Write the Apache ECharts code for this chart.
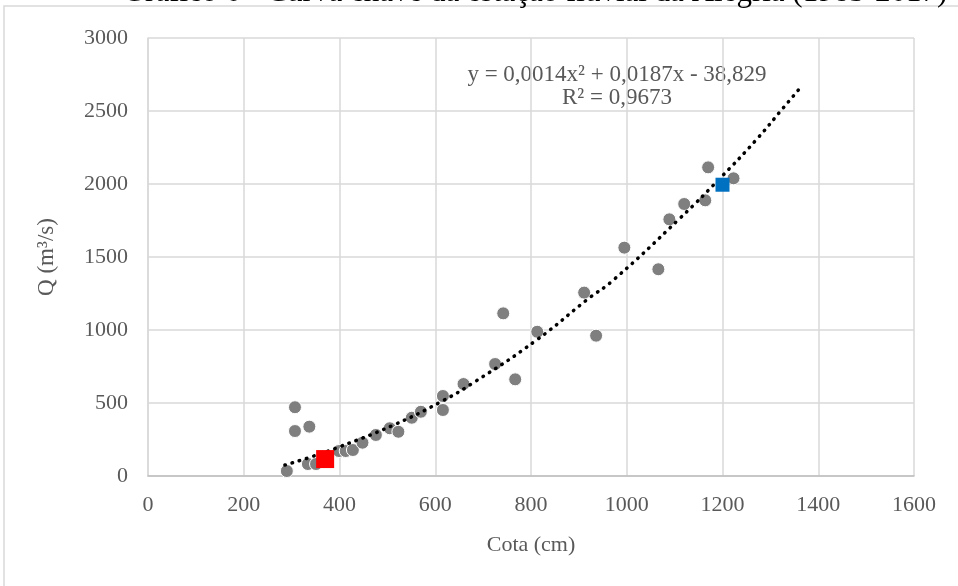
<!DOCTYPE html>
<html>
<head>
<meta charset="utf-8">
<script src="https://cdn.jsdelivr.net/npm/echarts@6/dist/echarts.min.js"></script>
<style>
  html, body { margin: 0; padding: 0; background: #fff; }
  #chart { width: 958px; height: 586px; }
</style>
</head>
<body>
<div id="chart"></div>
<script>
// medições (cota em cm, vazão em m3/s)
const cotaObs = [290, 307, 307, 337, 334, 351, 399, 413, 428, 448, 476, 505, 523, 551, 570, 616, 616, 659,
  725, 742, 767, 813, 911, 936, 995, 1066, 1089, 1120, 1164, 1170, 1223];
const vazaoObs = [34, 471, 308, 338, 82, 82, 171, 171, 178, 228, 281, 327, 303, 399, 440, 548, 452, 630,
  767, 1114, 662, 988, 1256, 961, 1564, 1416, 1758, 1863, 1888, 2114, 2039];

// pontos destacados
const pontoVermelho = [370, 116];
const pontoAzul = [1200, 1995];

// linha de tendência
const cotaTend = [286, 340, 400, 510, 610, 683, 812, 916, 972, 1111, 1198, 1270, 1325, 1360];
const vazaoTend = [75, 130, 200, 345, 505, 646, 932, 1205, 1342, 1765, 2050, 2301, 2514, 2650];

const xTicks = [0, 200, 400, 600, 800, 1000, 1200, 1400, 1600];
const yTicks = [0, 500, 1000, 1500, 2000, 2500, 3000];

const fonte = '"Liberation Serif", "DejaVu Serif", serif';
const cinza = '#595959';

const chart = echarts.init(document.getElementById('chart'));

const option = {
  backgroundColor: '#fff',
  animation: false,
  textStyle: { fontFamily: fonte },
  graphic: [
    {
      type: 'rect',
      shape: { x: 4, y: 6, width: 1000, height: 700 },
      style: { fill: 'none', stroke: '#d9d9d9', lineWidth: 1.5 },
      silent: true
    },
    {
      type: 'text',
      x: 535, y: -7,
      style: {
        text: 'Gráfico 6 - Curva chave da estação fluvial da Alegria (1983-2017)',
        font: '31px ' + fonte,
        fill: '#000',
        align: 'center',
        verticalAlign: 'middle'
      }
    },
    {
      type: 'text',
      x: 617, y: 86,
      style: {
        text: 'y = 0,0014x² + 0,0187x - 38,829\nR² = 0,9673',
        font: '23px ' + fonte,
        lineHeight: 23,
        fill: cinza,
        align: 'center',
        verticalAlign: 'middle'
      }
    }
  ],
  grid: { left: 148, right: 44, top: 38, bottom: 110, containLabel: false },
  xAxis: {
    type: 'value',
    min: xTicks[0],
    max: xTicks[xTicks.length - 1],
    interval: 200,
    name: 'Cota (cm)',
    nameLocation: 'middle',
    nameGap: 58,
    nameTextStyle: { color: cinza, fontSize: 22, fontFamily: fonte },
    axisLine: { show: true, lineStyle: { color: '#bfbfbf', width: 1.5 } },
    axisTick: { show: false },
    axisLabel: { color: cinza, fontSize: 22, fontFamily: fonte, margin: 18, formatter: (v) => String(v) },
    splitLine: { show: true, lineStyle: { color: '#d9d9d9', width: 1.5 } }
  },
  yAxis: {
    type: 'value',
    min: yTicks[0],
    max: yTicks[yTicks.length - 1],
    interval: 500,
    name: 'Q (m³/s)',
    nameLocation: 'middle',
    nameGap: 90,
    nameRotate: 90,
    nameTextStyle: { color: cinza, fontSize: 23, fontFamily: fonte },
    axisLine: { show: true, lineStyle: { color: '#d9d9d9', width: 1.5 } },
    axisTick: { show: false },
    axisLabel: { color: cinza, fontSize: 22, fontFamily: fonte, margin: 20, formatter: (v) => String(v) },
    splitLine: { show: true, lineStyle: { color: '#d9d9d9', width: 1.5 } }
  },
  series: [
    {
      name: 'Medições',
      type: 'scatter',
      symbol: 'circle',
      symbolSize: 13,
      itemStyle: { color: '#7f7f7f', borderColor: '#fff', borderWidth: 1, opacity: 1 },
      data: cotaObs.map((c, i) => [c, vazaoObs[i]]),
      z: 3
    },
    {
      name: 'Tendência',
      type: 'line',
      smooth: true,
      showSymbol: false,
      lineStyle: { color: '#000', width: 3.5, type: [0.5, 7], cap: 'round' },
      data: cotaTend.map((c, i) => [c, vazaoTend[i]]),
      z: 4
    },
    {
      name: 'Ponto vermelho',
      type: 'scatter',
      symbol: 'rect',
      symbolSize: 18,
      itemStyle: { color: '#ff0000', opacity: 1 },
      data: [pontoVermelho],
      z: 5
    },
    {
      name: 'Ponto azul',
      type: 'scatter',
      symbol: 'rect',
      symbolSize: 14,
      itemStyle: { color: '#0070c0', opacity: 1 },
      data: [pontoAzul],
      z: 5
    }
  ]
};

chart.setOption(option);
</script>
</body>
</html>
